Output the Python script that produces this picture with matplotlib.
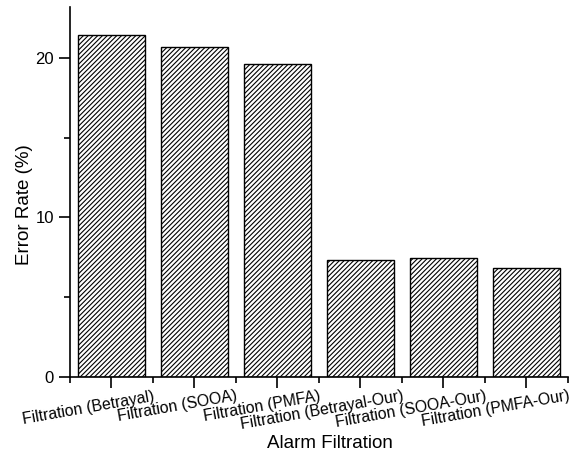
import matplotlib
matplotlib.use('Agg')
import matplotlib.pyplot as plt
from matplotlib.ticker import MultipleLocator

categories = ['Filtration (Betrayal)', 'Filtration (SOOA)', 'Filtration (PMFA)',
              'Filtration (Betrayal-Our)', 'Filtration (SOOA-Our)', 'Filtration (PMFA-Our)']
error_rate = [21.45, 20.7, 19.6, 7.3, 7.45, 6.8]

plt.rcParams['font.family'] = ['Liberation Sans', 'DejaVu Sans']
plt.rcParams['hatch.linewidth'] = 0.8

fig = plt.figure(figsize=(5.69, 4.54), dpi=100)
ax = fig.add_axes([0.123, 0.170, 0.875, 0.815])

x = list(range(len(categories)))
ax.bar(x, error_rate, width=0.8, color='white', edgecolor='black',
       linewidth=1.0, hatch='///////')

ax.set_xlim(-0.5, 5.5)
ax.set_ylim(0, 23.2)
ax.yaxis.set_major_locator(MultipleLocator(10))
ax.yaxis.set_minor_locator(MultipleLocator(5))
ax.set_xticks(x, [''] * len(x))
# labels sit right-aligned at the minor ticks between bars
ax.set_xticks([i - 0.5 for i in x] + [5.5], [''] + categories, minor=True)
for lbl in ax.get_xticklabels(minor=True):
    lbl.set_rotation(10)
    lbl.set_ha('right')
    lbl.set_va('top')
    lbl.set_rotation_mode('anchor')
    lbl.set_fontsize(11.3)

ax.tick_params(axis='both', which='major', direction='out', length=8, width=1.2, labelsize=12)
ax.tick_params(axis='both', which='minor', direction='out', length=4.5, width=1.2)
ax.tick_params(axis='x', which='minor', pad=4)

for side in ['top', 'right']:
    ax.spines[side].set_visible(False)
for side in ['left', 'bottom']:
    ax.spines[side].set_linewidth(1.2)

ax.set_xlabel('Alarm Filtration', fontsize=13.5)
ax.xaxis.set_label_coords(0.522, -0.158)
ax.set_ylabel('Error Rate (%)', fontsize=13.5)
ax.yaxis.set_label_coords(-0.075, 0.465)

fig.savefig('out.png', dpi=100)
